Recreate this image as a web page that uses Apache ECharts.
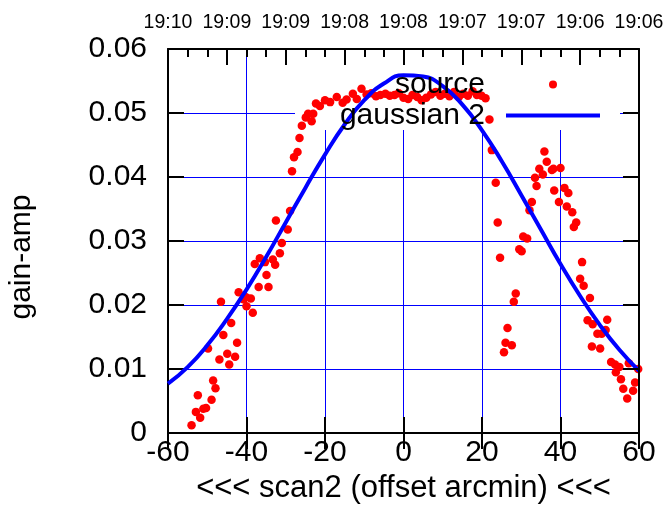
<!DOCTYPE html>
<html>
<head>
<meta charset="utf-8">
<script src="https://cdn.jsdelivr.net/npm/echarts@6/dist/echarts.min.js"></script>
<style>
html,body{margin:0;padding:0;background:#fff;}
#chart{width:667px;height:527px;}
</style>
</head>
<body>
<div id="chart"></div>
<script>
// ---- data ----
const srcX = [
  -54.0,-52.9,-52.4,-51.8,-51.0,-50.3,-49.8,-48.9,-48.5,-47.9,
  -46.9,-46.5,-45.9,-44.9,-44.4,-43.9,-42.9,-42.4,-42.0,-40.8,
  -40.1,-40.0,-38.9,-38.4,-37.9,-36.9,-36.6,-35.3,-34.9,-34.4,
  -33.3,-32.7,-32.5,-31.5,-31.0,-29.5,-28.9,-28.4,-27.9,-27.0,
  -26.5,-25.9,-24.9,-24.3,-23.4,-23.0,-22.3,-21.3,-20.0,-18.7,
  -17.0,-15.5,-14.5,-12.9,-11.9,-10.7,-9.4,-8.2,-7.0,-5.9,
  -4.6,-3.5,-2.3,-1.2,0.0,1.2,2.3,3.5,4.6,5.8,
  7.0,8.2,9.4,10.5,11.7,12.9,14.1,15.2,16.4,17.6,
  18.7,19.9,20.9,21.9,22.5,23.5,24.0,24.6,25.6,26.0,
  26.5,27.6,28.1,28.6,29.5,30.1,30.5,31.5,32.1,32.7,
  33.5,33.9,34.6,35.5,35.9,36.5,37.8,38.2,38.4,39.6,
  40.0,41.0,41.6,42.0,43.0,43.4,44.0,45.0,45.5,45.9,
  46.9,47.5,48.0,48.2,49.4,50.1,50.5,51.5,51.9,52.9,
  53.9,54.1,55.0,55.4,56.0,57.0,57.4,58.5,59.0,59.8
];
const srcY = [
  0.0012,0.0033,0.0059,0.0024,0.0038,0.0039,0.0132,0.0052,0.0082,0.0070,
  0.0115,0.0205,0.0153,0.0124,0.0107,0.0172,0.0119,0.0141,0.0220,0.0209,
  0.0212,0.0198,0.0210,0.0188,0.0264,0.0228,0.0273,0.0267,0.0247,0.0228,
  0.0271,0.0263,0.0332,0.0281,0.0297,0.0318,0.0347,0.0409,0.0431,0.0439,
  0.0461,0.0480,0.0493,0.0499,0.0487,0.0499,0.0515,0.0511,0.0520,0.0517,
  0.0525,0.0516,0.0521,0.0530,0.0522,0.0538,0.0529,0.0531,0.0526,0.0528,
  0.0530,0.0527,0.0528,0.0531,0.0524,0.0522,0.0528,0.0525,0.0520,0.0524,
  0.0529,0.0533,0.0527,0.0530,0.0526,0.0533,0.0525,0.0530,0.0527,0.0534,
  0.0528,0.0527,0.0523,0.0490,0.0442,0.0391,0.0329,0.0274,0.0126,0.0141,
  0.0164,0.0137,0.0205,0.0218,0.0287,0.0284,0.0307,0.0304,0.0348,0.0361,
  0.0399,0.0386,0.0413,0.0404,0.0440,0.0424,0.0411,0.0413,0.0379,0.0361,
  0.0414,0.0383,0.0354,0.0375,0.0345,0.0322,0.0329,0.0241,0.0267,0.0230,
  0.0176,0.0211,0.0135,0.0170,0.0155,0.0132,0.0155,0.0161,0.0177,0.0111,
  0.0107,0.0095,0.0103,0.0084,0.0069,0.0054,0.0109,0.0066,0.0079,0.0100
];
const fitX = [-60,-55,-50,-45,-40,-35,-30,-25,-20,-15,-10,-5,0,5,10,15,20,25,30,35,40,45,50,55,60];
const fitY = [0.0077,0.0103,0.0137,0.0178,0.0224,0.0275,0.0329,0.0383,0.0435,0.0482,0.0520,0.0546,0.0559,0.0557,0.0542,0.0513,0.0473,0.0425,0.0372,0.0318,0.0264,0.0214,0.0169,0.0130,0.0097];
const topLabels = ['19:10','19:09','19:09','19:08','19:08','19:07','19:07','19:06','19:06'];
const xTickValues = [-60,-40,-20,0,20,40,60];
const yTickLabels = ['0','0.01','0.02','0.03','0.04','0.05','0.06'];

const FONT = 'Liberation Sans, Arial, sans-serif';
const chart = echarts.init(document.getElementById('chart'), null, {renderer:'canvas'});

const blk = {color:'#000', width:2};
const option = {
  backgroundColor:'#fff',
  animation:false,
  grid:{left:168, top:49, width:471, height:384, containLabel:false, outerBoundsMode:'none'},
  legend:{
    data:[
      {name:'source', icon:'circle'},
      {name:'gaussian 2', icon:'path://M0,0 H94 V4 H0 Z'}
    ],
    orient:'vertical', align:'right',
    right:67, top:69, padding:0, itemGap:0,
    itemWidth:94, itemHeight:8,
    selectedMode:false,
    textStyle:{fontFamily:FONT, fontSize:30, color:'#000', lineHeight:31, padding:[0,16,0,0]}
  },
  graphic:[{
    type:'rect', z:1, silent:true,
    shape:{x:295, y:51, width:325, height:79},
    style:{fill:'#fff'}
  }],
  xAxis:[
    {
      type:'value', position:'bottom', min:-60, max:60, interval:20,
      axisLine:{show:true, onZero:false, lineStyle:blk},
      axisTick:{show:true, inside:true, length:16, lineStyle:blk},
      axisLabel:{fontFamily:FONT, fontSize:30, color:'#000', margin:5,
        formatter:v=> xTickValues.indexOf(v) >= 0 ? String(v) : ''},
      splitLine:{show:true, lineStyle:{color:'#0000ff', width:1}},
      name:'<<< scan2 (offset arcmin) <<<', nameLocation:'middle', nameGap:37,
      nameTextStyle:{fontFamily:FONT, fontSize:31, color:'#000'}
    },
    {
      type:'value', position:'top', min:-60, max:60, interval:15, z:5,
      axisLine:{show:true, onZero:false, lineStyle:blk},
      axisTick:{show:true, inside:true, length:16, lineStyle:blk},
      minorTick:{show:true, splitNumber:3, length:8, lineStyle:blk},
      axisLabel:{fontFamily:FONT, fontSize:19.5, color:'#000', margin:16, hideOverlap:false,
        showMinLabel:true, showMaxLabel:true,
        formatter:v=> topLabels[Math.round((v+60)/15)] || ''},
      splitLine:{show:false}
    },
    {
      type:'value', position:'top', min:-60, max:60, interval:20, z:5,
      axisLine:{show:false},
      axisTick:{show:true, inside:true, length:16, lineStyle:blk},
      axisLabel:{show:false},
      splitLine:{show:false}
    }
  ],
  yAxis:[
    {
      type:'value', position:'left', min:0, max:0.06, interval:0.01,
      axisLine:{show:true, onZero:false, lineStyle:blk},
      axisTick:{show:true, inside:true, length:16, lineStyle:blk},
      axisLabel:{fontFamily:FONT, fontSize:30, color:'#000', margin:21,
        formatter:v=> yTickLabels[Math.round(v/0.01)]},
      splitLine:{show:true, lineStyle:{color:'#0000ff', width:1}},
      name:'gain-amp', nameLocation:'middle', nameGap:131, nameRotate:90,
      nameTextStyle:{fontFamily:FONT, fontSize:30, color:'#000', padding:[0,32,0,0]}
    },
    {
      type:'value', position:'right', min:0, max:0.06, interval:0.01, z:5,
      axisLine:{show:true, onZero:false, lineStyle:blk},
      axisTick:{show:true, inside:true, length:16, lineStyle:blk},
      axisLabel:{show:false},
      splitLine:{show:false}
    }
  ],
  series:[
    {
      name:'source', type:'scatter', xAxisIndex:0, yAxisIndex:0,
      symbol:'circle', symbolSize:8.5,
      itemStyle:{color:'#ff0000', opacity:1},
      data: srcX.map((x,i)=>[x, srcY[i]]),
      z:2
    },
    {
      name:'gaussian 2', type:'line', xAxisIndex:0, yAxisIndex:0,
      smooth:true, symbol:'none', showSymbol:false,
      lineStyle:{color:'#0000ff', width:4},
      itemStyle:{color:'#0000ff'},
      data: fitX.map((x,i)=>[x, fitY[i]]),
      z:3
    }
  ]
};
chart.setOption(option);
</script>
</body>
</html>
